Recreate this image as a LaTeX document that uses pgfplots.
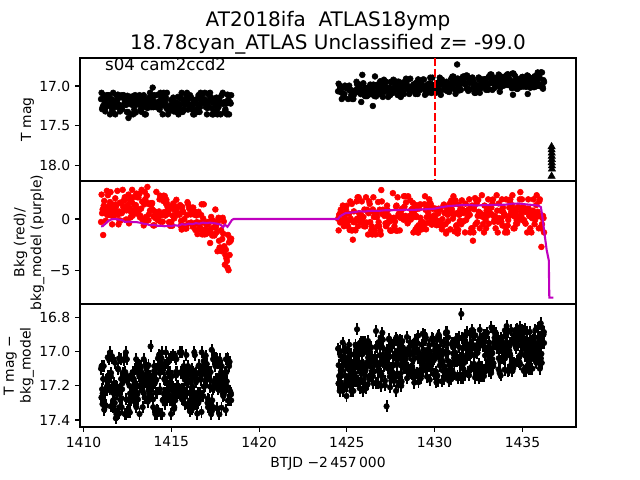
\documentclass[border=0pt]{standalone}
\usepackage{pgfplots}
\pgfplotsset{compat=1.18}
\usepackage{pgfplotstable}
\usepackage{fontspec}
\setmainfont{DejaVu Sans}
\definecolor{mpred}{rgb}{1,0,0}
\definecolor{mpmag}{rgb}{0.75,0,0.75}

\pgfplotstableread{
x mag bkg det
1411.00 17.164 -0.29 17.10
1411.06 17.290 0.56 17.22
1411.12 17.248 -1.55 17.16
1411.18 17.276 1.75 17.34
1411.24 17.318 1.07 17.24
1411.30 17.164 1.07 17.22
1411.36 17.234 0.39 17.16
1411.42 17.234 0.90 17.14
1411.48 17.248 0.39 17.22
1411.54 17.220 2.60 17.32
1411.60 17.164 0.56 17.04
1411.66 17.318 1.41 17.24
1411.72 17.234 0.73 17.32
1411.78 17.192 1.07 17.30
1411.84 17.262 1.41 17.39
1411.90 17.234 0.73 17.24
1411.96 17.108 0.39 17.10
1412.02 17.234 0.73 17.04
1412.08 17.318 1.58 17.22
1412.14 17.276 1.58 17.16
1412.20 17.290 0.66 17.22
1412.26 17.136 1.17 17.14
1412.32 17.220 1.85 17.14
1412.38 17.150 1.17 17.12
1412.44 17.234 0.83 17.28
1412.50 17.122 1.17 17.16
1412.56 17.400 2.36 17.34
1412.62 17.206 1.85 17.20
1412.68 17.136 0.15 17.14
1412.74 17.234 1.68 17.14
1412.80 17.192 0.32 17.12
1412.86 17.122 0.83 17.16
1412.92 17.178 0.66 17.26
1412.98 17.332 1.34 17.20
1413.04 17.164 1.00 17.24
1413.10 17.206 0.49 17.28
1413.16 17.178 0.83 17.08
1413.22 17.234 0.15 17.20
1413.28 17.136 1.00 17.12
1413.34 17.234 1.68 17.22
1413.40 17.220 -0.12 17.24
1413.46 17.262 1.41 17.16
1413.52 17.178 1.92 17.18
1413.58 17.234 0.22 17.10
1413.64 17.276 3.10 17.20
1413.70 17.164 -0.12 17.08
1413.76 17.220 1.41 17.14
1413.82 17.206 1.41 16.97
1413.88 17.150 1.41 17.16
1413.94 17.020 0.90 17.20
1414.00 17.262 0.22 17.18
1414.06 17.122 0.73 17.16
1414.12 17.220 0.05 17.10
1414.18 17.234 0.39 17.24
1414.24 17.108 -0.12 17.04
1414.30 17.192 0.73 17.02
1414.36 17.262 2.26 17.22
1414.42 17.192 0.39 17.06
1414.48 17.108 0.39 17.10
1414.54 17.234 1.75 17.28
1414.60 17.234 0.67 17.16
1414.66 17.206 0.33 17.08
1414.72 17.276 1.86 17.24
1414.78 17.290 1.18 17.18
1414.84 17.262 0.50 17.06
1414.90 17.248 -0.35 17.18
1414.96 17.304 1.18 17.20
1415.02 17.178 1.01 17.20
1415.08 17.220 0.33 17.02
1415.14 17.318 1.35 17.24
1415.20 17.262 0.84 17.22
1415.26 17.262 1.01 17.12
1415.32 17.206 0.67 17.20
1415.38 17.136 0.50 17.20
1415.44 17.248 0.50 17.24
1415.50 17.234 1.35 17.24
1415.56 17.164 -0.18 17.12
1415.62 17.304 1.18 17.28
1415.68 17.304 0.67 17.22
1415.74 17.192 -0.01 17.22
1415.80 17.220 -0.92 17.16
1415.86 17.122 -0.92 17.02
1415.92 17.220 1.63 17.18
1415.98 17.164 -0.41 17.18
1416.04 17.234 0.95 17.24
1416.10 17.248 0.44 17.24
1416.16 17.248 0.61 17.10
1416.22 17.234 -0.75 17.12
1416.28 17.192 0.44 17.24
1416.34 17.192 -0.41 17.02
1416.40 17.220 -0.47 17.18
1416.46 17.164 -0.30 17.16
1416.52 17.234 0.55 17.24
1416.58 17.136 -0.98 17.08
1416.64 17.262 -0.81 17.24
1416.70 17.178 0.38 17.14
1416.76 17.206 -1.49 17.12
1416.82 17.178 0.04 17.26
1416.88 17.164 -1.49 17.10
1416.94 17.220 -0.98 17.20
1417.00 17.220 -0.46 17.12
1417.06 17.276 -0.29 17.30
1417.12 17.094 -1.31 17.12
1417.18 17.178 -0.29 17.12
1417.24 17.150 -0.97 17.12
1417.30 17.276 -0.12 16.99
1417.36 17.206 -1.48 17.22
1417.42 17.318 -0.80 17.18
1417.48 17.192 -1.48 17.04
1417.54 17.248 -0.80 17.04
1417.60 17.304 -1.26 17.16
1417.66 17.234 -0.24 17.22
1417.72 17.192 -2.11 17.18
1417.78 17.220 -2.96 17.20
1417.84 17.206 -1.09 17.12
1417.90 17.220 -1.94 17.20
1417.96 17.220 -1.43 17.26
1418.02 17.332 -2.63 17.22
1418.08 17.290 -3.48 17.18
1418.14 17.220 -3.82 17.12
1418.20 17.108 -4.70 17.04
1418.26 17.178 -4.95 17.06
1418.32 17.206 -3.48 17.06
1418.38 17.220 -2.12 17.24
1424.50 17.066 0.02 16.983
1424.56 17.066 0.38 17.143
1424.62 17.033 -0.34 16.999
1424.68 17.077 -0.16 17.143
1424.74 17.011 -0.16 17.111
1424.80 17.110 0.38 17.047
1424.86 17.099 0.38 17.031
1424.92 17.022 -0.34 16.983
1424.98 17.022 1.28 17.260
1425.04 17.033 -0.16 17.047
1425.10 17.011 -0.16 17.143
1425.16 17.055 -1.06 17.063
1425.22 17.055 0.02 17.127
1425.28 17.088 1.46 17.175
1425.34 17.110 -2.00 17.111
1425.40 17.110 0.74 17.079
1425.46 17.055 -1.06 17.127
1425.52 17.055 -0.16 17.175
1425.58 16.978 0.02 16.870
1425.64 17.077 -0.70 17.095
1425.70 17.075 0.56 17.016
1425.76 17.020 -0.16 16.968
1425.82 17.200 0.38 17.128
1425.88 16.860 -0.34 17.016
1425.94 16.965 0.20 17.080
1426.00 17.042 0.92 17.128
1426.06 17.020 -0.70 17.112
1426.12 17.053 -0.34 17.064
1426.18 17.053 0.74 17.192
1426.24 17.108 0.56 17.064
1426.30 17.064 1.46 17.144
1426.36 17.064 0.74 17.144
1426.42 17.031 -0.70 17.032
1426.48 17.250 0.92 17.144
1426.54 17.075 0.20 17.048
1426.60 16.880 0.56 17.032
1426.66 17.130 0.20 16.880
1426.72 16.987 0.20 17.080
1426.78 17.075 1.64 17.112
1426.84 17.042 -0.70 17.112
1426.90 16.941 -1.14 16.954
1426.96 17.073 2.80 17.130
1427.02 16.963 0.48 16.890
1427.08 17.051 0.66 17.018
1427.14 17.073 0.30 17.082
1427.20 17.029 -0.42 17.050
1427.26 17.018 -0.60 17.320
1427.32 17.051 0.84 17.098
1427.38 17.040 0.30 17.034
1427.44 17.018 -0.24 17.146
1427.50 16.952 -1.14 16.970
1427.56 17.062 -0.06 17.130
1427.62 17.073 2.50 17.082
1427.68 17.062 0.12 17.146
1427.74 16.974 -0.24 17.018
1427.80 17.040 1.20 17.230
1427.86 17.040 -1.14 17.066
1427.92 17.007 0.30 16.954
1427.98 17.018 0.48 17.178
1428.04 17.084 0.12 17.018
1428.10 17.060 0.84 17.200
1428.16 16.994 0.30 16.939
1428.22 17.071 -0.06 17.019
1428.28 17.005 1.20 17.099
1428.34 16.950 0.30 17.035
1428.40 17.005 -0.06 17.115
1428.46 17.038 -0.42 17.099
1428.52 17.005 -0.06 17.115
1428.58 17.049 0.30 17.019
1428.64 17.038 -0.06 17.099
1428.70 17.060 0.48 17.083
1428.76 17.016 1.56 17.051
1428.82 17.027 0.66 17.115
1428.88 17.049 1.38 17.147
1428.94 16.961 0.30 16.987
1429.00 16.961 -0.78 16.987
1429.06 16.917 -1.32 16.907
1429.12 17.038 1.02 17.131
1429.18 16.950 0.12 17.051
1429.24 16.972 -0.24 17.051
1429.30 16.992 -0.37 17.037
1429.36 17.025 -0.37 16.989
1429.42 17.014 1.43 17.037
1429.48 17.069 0.89 17.101
1429.54 17.058 0.17 17.021
1429.60 16.981 -0.37 16.989
1429.66 17.036 1.25 17.085
1429.72 17.069 1.61 17.165
1429.78 16.970 1.43 17.037
1429.84 16.992 -0.55 17.053
1429.90 17.003 1.07 17.053
1429.96 16.992 0.35 17.133
1430.02 17.003 0.17 16.989
1430.08 17.014 0.89 17.117
1430.14 16.992 -0.55 16.973
1430.20 17.003 0.53 16.909
1430.26 16.948 -0.19 16.989
1430.32 17.058 0.89 17.005
1430.38 16.981 -0.55 16.941
1430.44 16.959 -0.01 17.053
1430.50 16.990 1.30 17.086
1430.56 17.034 0.58 17.086
1430.62 17.001 -0.50 17.006
1430.68 16.946 -1.22 16.958
1430.74 17.067 0.40 17.054
1430.80 16.990 0.76 17.134
1430.86 17.045 1.48 17.150
1430.92 16.968 0.58 17.086
1430.98 17.012 0.94 16.958
1431.04 16.990 0.04 16.974
1431.10 16.902 0.40 17.038
1431.16 17.045 1.48 17.054
1431.22 16.913 -0.68 16.926
1431.28 16.730 0.58 17.054
1431.34 16.913 -1.04 16.926
1431.40 17.056 0.40 16.974
1431.46 17.045 0.94 17.038
1431.52 16.924 -0.50 16.780
1431.58 16.946 0.94 17.022
1431.64 16.957 0.58 17.102
1431.70 16.977 0.76 16.928
1431.76 16.966 1.48 17.040
1431.82 17.032 0.76 17.040
1431.88 17.032 0.22 16.992
1431.94 16.911 0.94 17.008
1432.00 17.043 0.40 16.960
1432.06 16.944 1.12 17.008
1432.12 16.955 1.30 16.976
1432.18 16.911 -2.10 16.896
1432.24 16.955 0.94 17.072
1432.30 17.076 2.02 17.152
1432.36 17.076 1.84 17.136
1432.42 16.988 -0.32 17.008
1432.48 17.054 1.84 17.104
1432.54 16.922 0.40 17.072
1432.60 17.032 0.58 16.960
1432.66 16.933 0.40 17.088
1432.72 16.988 0.22 16.928
1432.78 16.988 0.40 16.944
1432.84 16.977 1.30 16.976
1432.90 16.964 -0.09 17.090
1432.96 16.909 0.81 16.994
1433.02 17.019 0.63 17.074
1433.08 16.887 -0.45 16.946
1433.14 16.964 1.17 17.074
1433.20 16.964 0.45 17.010
1433.26 16.942 0.45 17.010
1433.32 16.964 1.89 16.978
1433.38 16.898 -0.27 16.882
1433.44 16.975 0.27 16.946
1433.50 16.942 0.09 16.914
1433.56 16.898 0.81 16.978
1433.62 16.942 -0.27 16.978
1433.68 16.942 0.09 16.978
1433.74 17.019 0.81 17.058
1433.80 16.898 -0.27 16.978
1433.86 16.953 -0.63 16.962
1433.92 16.997 0.63 16.914
1433.98 16.964 0.45 17.106
1434.04 16.953 -0.81 16.978
1434.10 16.863 -1.17 16.851
1434.16 16.852 -0.63 16.883
1434.22 16.896 0.27 16.995
1434.28 16.973 1.71 17.011
1434.34 16.984 0.45 16.947
1434.40 17.028 1.35 17.059
1434.46 17.110 0.99 17.075
1434.52 16.940 0.27 16.931
1434.58 16.874 0.63 16.963
1434.64 16.973 -0.45 16.979
1434.70 16.918 -0.45 16.867
1434.76 16.929 1.17 16.963
1434.82 16.940 0.27 17.059
1434.88 16.984 2.60 17.075
1434.94 16.907 0.27 17.011
1435.00 16.885 -0.09 16.883
1435.06 17.006 1.17 17.107
1435.12 16.929 -0.27 16.963
1435.18 16.995 -0.45 16.979
1435.24 16.918 0.99 16.995
1435.30 17.100 0.99 16.981
1435.36 16.949 0.99 17.045
1435.42 16.949 0.27 16.885
1435.48 16.905 0.63 17.045
1435.54 16.960 0.09 16.949
1435.60 16.993 0.81 16.965
1435.66 17.015 0.63 16.981
1435.72 16.927 -0.09 16.949
1435.78 17.004 1.35 17.061
1435.84 16.993 0.27 17.013
1435.90 16.971 0.27 16.917
1435.96 16.993 1.71 17.013
1436.02 17.004 0.27 16.965
1436.08 16.982 -2.70 17.013
1436.14 17.004 0.09 16.949
1436.20 16.927 0.09 16.901
}\lca

\pgfplotstableread{
x mag bkg det
1411.03 17.085 2.36 17.085
1411.09 17.265 0.92 17.245
1411.15 17.115 1.28 17.085
1411.21 17.205 0.56 17.325
1411.27 17.265 -0.16 17.165
1411.33 17.115 2.72 17.205
1411.39 17.115 2.30 17.165
1411.45 17.115 1.28 17.045
1411.51 17.355 1.64 17.005
1411.57 17.175 0.92 17.125
1411.63 17.295 -0.52 17.205
1411.69 17.085 0.20 17.285
1411.75 17.235 0.56 17.245
1411.81 17.355 2.00 17.205
1411.87 17.115 1.28 17.365
1411.93 17.175 2.72 17.205
1411.99 17.145 -0.52 17.365
1412.05 17.265 -0.16 17.325
1412.11 17.295 -0.16 17.045
1412.17 17.115 0.56 17.325
1412.23 17.145 2.82 17.125
1412.29 17.115 1.74 17.045
1412.35 17.175 2.10 17.365
1412.41 17.235 -0.06 17.005
1412.47 17.325 -0.06 17.045
1412.53 17.325 1.38 17.165
1412.59 17.205 -0.42 17.285
1412.65 17.145 1.02 17.245
1412.71 17.355 0.66 17.285
1412.77 17.145 2.82 17.245
1412.83 17.355 2.10 17.165
1412.89 17.295 1.38 17.245
1412.95 17.115 0.66 17.205
1413.01 17.235 2.46 17.325
1413.07 17.145 2.10 17.205
1413.13 17.205 2.10 17.085
1413.19 17.115 2.46 17.365
1413.25 17.295 0.30 17.085
1413.31 17.325 2.82 17.125
1413.37 17.175 -0.06 17.325
1413.43 17.115 -0.62 17.045
1413.49 17.355 2.62 17.165
1413.55 17.355 -0.26 17.085
1413.61 17.175 2.26 17.125
1413.67 17.175 1.54 17.285
1413.73 17.145 0.46 17.245
1413.79 17.085 0.82 17.165
1413.85 17.265 1.54 17.205
1413.91 17.175 1.54 17.165
1413.97 17.265 -0.62 17.325
1414.03 17.115 -0.62 17.085
1414.09 17.205 0.46 17.365
1414.15 17.265 2.62 17.165
1414.21 17.235 0.46 17.365
1414.27 17.205 0.10 17.085
1414.33 17.295 1.90 17.125
1414.39 17.085 -0.26 17.365
1414.45 17.145 1.90 17.005
1414.51 17.355 -0.26 17.285
1414.57 17.085 2.26 17.245
1414.63 17.175 2.22 17.165
1414.69 17.145 1.50 17.005
1414.75 17.085 1.50 17.285
1414.81 17.355 0.78 17.125
1414.87 17.295 -0.30 17.045
1414.93 17.265 -0.66 17.285
1414.99 17.175 -0.30 17.365
1415.05 17.265 -0.66 17.285
1415.11 17.145 1.50 17.205
1415.17 17.205 0.06 17.325
1415.23 17.205 1.14 17.285
1415.29 17.325 1.86 17.045
1415.35 17.295 0.42 17.245
1415.41 17.355 1.14 17.245
1415.47 17.235 0.42 17.005
1415.53 17.145 -0.66 17.125
1415.59 17.085 -1.02 17.005
1415.65 17.325 0.78 17.245
1415.71 17.295 -0.66 17.085
1415.77 17.235 -0.66 17.165
1415.83 17.175 -0.70 17.245
1415.89 17.085 0.38 17.245
1415.95 17.295 1.46 17.085
1416.01 17.235 1.10 17.325
1416.07 17.115 1.10 17.285
1416.13 17.145 -0.34 17.165
1416.19 17.295 1.10 17.205
1416.25 17.355 1.10 17.325
1416.31 17.355 0.74 17.005
1416.37 17.175 -1.06 17.285
1416.43 17.295 0.34 17.125
1416.49 17.325 -1.46 17.285
1416.55 17.115 0.70 17.085
1416.61 17.325 -0.38 17.245
1416.67 17.085 -0.38 17.165
1416.73 17.115 1.42 17.005
1416.79 17.205 -1.10 17.085
1416.85 17.175 1.42 17.205
1416.91 17.085 -0.38 17.125
1416.97 17.265 -1.46 17.165
1417.03 17.355 -0.52 17.165
1417.09 17.235 -0.52 17.325
1417.15 17.115 -1.24 17.285
1417.21 17.085 -2.32 17.205
1417.27 17.145 0.20 17.365
1417.33 17.355 -1.60 17.285
1417.39 17.355 -0.16 17.325
1417.45 17.325 -1.60 17.205
1417.51 17.175 0.92 17.085
1417.57 17.145 -0.52 17.165
1417.63 17.355 -3.12 17.045
1417.69 17.265 0.12 17.205
1417.75 17.145 -2.76 17.045
1417.81 17.355 -2.76 17.085
1417.87 17.115 -3.12 17.085
1417.93 17.085 0.12 17.245
1417.99 17.205 -0.24 17.245
1418.05 17.205 -4.42 17.125
1418.11 17.325 -2.98 17.045
1418.17 17.355 -4.06 17.205
1418.23 17.175 -1.54 17.045
1418.29 17.355 -2.26 17.085
1418.35 17.205 -1.90 17.285
1418.41 17.115 -1.90 17.285
1424.53 16.971 -1.10 17.080
1424.59 16.995 0.50 17.230
1424.65 17.019 0.90 17.110
1424.71 17.163 0.50 17.200
1424.77 17.019 1.30 17.230
1424.83 17.139 -0.70 17.050
1424.89 16.995 0.10 17.140
1424.95 17.019 0.90 17.080
1425.01 17.019 -0.30 17.200
1425.07 17.163 -0.70 17.170
1425.13 16.995 0.50 16.960
1425.19 17.043 1.70 17.200
1425.25 17.115 -1.10 17.230
1425.31 17.163 -1.10 17.140
1425.37 17.163 -0.30 17.230
1425.43 17.067 -0.30 17.170
1425.49 17.067 -1.10 16.960
1425.55 16.947 1.70 17.020
1425.61 17.043 2.10 17.170
1425.67 17.043 2.10 17.080
1425.73 16.982 0.50 17.215
1425.79 17.102 -0.30 16.945
1425.85 17.078 1.70 16.975
1425.91 17.078 0.10 16.945
1425.97 17.078 -0.70 17.185
1426.03 17.126 -0.70 16.945
1426.09 17.126 2.10 17.215
1426.15 17.126 0.90 17.005
1426.21 17.030 -1.50 17.035
1426.27 17.054 1.70 17.005
1426.33 16.982 -0.30 17.065
1426.39 17.102 -1.10 16.975
1426.45 17.102 -1.50 17.125
1426.51 16.982 2.10 17.185
1426.57 17.126 -1.10 17.065
1426.63 17.078 -1.50 17.185
1426.69 17.006 0.50 16.975
1426.75 16.982 -0.70 17.185
1426.81 17.078 -0.30 16.945
1426.87 17.102 0.90 17.065
1426.93 16.993 -1.50 17.201
1426.99 17.017 1.70 17.051
1427.05 17.137 0.90 16.931
1427.11 16.921 0.50 17.081
1427.17 16.969 0.50 17.171
1427.23 16.945 -0.70 17.021
1427.29 17.041 1.30 16.991
1427.35 17.137 -0.30 17.081
1427.41 17.113 0.10 16.931
1427.47 17.113 -1.10 16.991
1427.53 16.945 0.10 17.171
1427.59 17.089 -1.10 16.961
1427.65 16.921 0.10 17.081
1427.71 17.017 -0.70 17.171
1427.77 16.969 -1.10 16.931
1427.83 16.945 1.30 16.931
1427.89 17.113 2.10 17.021
1427.95 16.945 0.50 16.991
1428.01 17.041 -1.10 16.931
1428.07 17.137 0.50 17.081
1428.13 17.004 1.00 17.036
1428.19 16.956 1.00 16.976
1428.25 17.100 2.20 17.036
1428.31 17.004 2.20 17.066
1428.37 16.908 1.60 17.006
1428.43 16.932 -0.20 17.156
1428.49 17.004 2.20 17.096
1428.55 17.100 0.20 16.976
1428.61 16.908 1.80 16.946
1428.67 17.028 0.90 17.126
1428.73 17.028 1.00 17.096
1428.79 16.980 -1.30 17.006
1428.85 17.052 0.20 17.036
1428.91 17.100 -1.00 16.976
1428.97 17.028 0.20 17.126
1429.03 17.100 1.00 17.036
1429.09 16.980 -0.60 17.006
1429.15 17.052 1.40 17.156
1429.21 16.980 1.40 17.156
1429.27 17.028 -1.00 17.096
1429.33 16.919 -0.60 17.112
1429.39 16.919 -0.60 16.902
1429.45 17.111 2.20 16.902
1429.51 17.015 -1.00 17.022
1429.57 17.087 1.00 17.022
1429.63 17.039 0.60 17.082
1429.69 16.967 1.90 16.962
1429.75 16.895 0.20 17.082
1429.81 17.087 -0.20 17.022
1429.87 16.895 1.00 16.932
1429.93 16.991 0.20 17.052
1429.99 17.039 -0.20 16.962
1430.05 17.087 1.00 17.022
1430.11 16.967 -0.60 16.932
1430.17 16.967 -0.20 17.172
1430.23 17.063 1.00 16.902
1430.29 16.895 -0.60 17.082
1430.35 17.111 -0.60 17.022
1430.41 16.919 -1.00 17.022
1430.47 16.967 -0.60 17.112
1430.53 16.978 1.40 16.947
1430.59 17.050 0.60 17.127
1430.65 17.026 -1.40 16.887
1430.71 17.026 1.00 16.887
1430.77 17.002 -0.20 16.917
1430.83 17.074 0.60 17.127
1430.89 16.978 -1.00 17.097
1430.95 16.906 1.80 17.127
1431.01 16.882 0.60 16.947
1431.07 16.882 2.20 16.947
1431.13 16.930 -1.20 17.067
1431.19 17.098 1.80 16.947
1431.25 16.978 -0.60 17.037
1431.31 16.906 -1.40 17.157
1431.37 17.002 1.40 16.917
1431.43 16.978 -0.20 17.067
1431.49 17.050 -0.20 17.067
1431.55 16.930 1.80 17.157
1431.61 16.882 0.60 17.157
1431.67 16.882 -0.20 17.067
1431.73 16.893 -1.30 16.903
1431.79 16.869 -0.10 16.963
1431.85 16.869 0.70 16.963
1431.91 17.061 0.70 16.993
1431.97 16.965 1.90 17.023
1432.03 16.941 -1.30 17.023
1432.09 16.941 -0.90 16.963
1432.15 16.893 -0.90 16.873
1432.21 17.013 -1.30 16.963
1432.27 17.085 1.30 17.023
1432.33 17.085 -0.50 17.113
1432.39 17.013 1.50 16.963
1432.45 17.013 0.30 16.963
1432.51 16.893 0.70 17.083
1432.57 17.085 -0.90 16.873
1432.63 16.989 0.30 16.933
1432.69 16.917 2.30 17.113
1432.75 17.013 -0.50 17.143
1432.81 16.917 -1.30 17.143
1432.87 16.917 0.10 17.023
1432.93 17.048 -0.90 17.099
1432.99 17.024 0.30 16.889
1433.05 17.048 1.90 17.009
1433.11 16.880 0.70 16.949
1433.17 16.856 1.10 17.039
1433.23 16.856 1.10 16.859
1433.29 17.048 1.50 17.009
1433.35 16.904 0.30 17.069
1433.41 17.024 -0.10 16.919
1433.47 16.952 -0.90 16.889
1433.53 16.952 2.30 16.919
1433.59 17.000 -1.30 16.919
1433.65 16.856 1.50 17.039
1433.71 17.072 -0.10 16.949
1433.77 16.880 -0.10 16.919
1433.83 16.952 1.90 17.039
1433.89 16.904 1.10 16.949
1433.95 16.976 0.30 16.979
1434.01 16.880 -1.30 17.039
1434.07 16.952 1.90 16.949
1434.13 16.987 -1.30 16.964
1434.19 16.891 -0.10 17.114
1434.25 16.987 1.10 16.994
1434.31 16.939 1.90 17.024
1434.37 16.939 0.70 16.874
1434.43 16.843 2.30 17.114
1434.49 16.843 -0.90 16.904
1434.55 17.011 -0.90 16.904
1434.61 16.987 0.70 16.874
1434.67 17.035 -0.10 17.054
1434.73 17.035 1.10 17.054
1434.79 16.915 -0.10 16.904
1434.85 16.939 1.90 17.024
1434.91 17.011 0.70 16.964
1434.97 16.891 1.90 16.874
1435.03 16.939 1.10 16.964
1435.09 16.915 -0.10 17.114
1435.15 16.987 0.70 17.024
1435.21 17.011 0.70 17.114
1435.27 16.867 -1.30 17.084
1435.33 16.878 1.90 16.950
1435.39 16.974 0.30 17.100
1435.45 17.022 -0.90 16.935
1435.51 16.902 -1.30 17.100
1435.57 16.950 0.30 17.100
1435.63 16.926 1.90 16.920
1435.69 16.878 -0.50 17.010
1435.75 16.926 0.30 17.010
1435.81 16.950 2.30 16.980
1435.87 16.830 0.70 16.860
1435.93 16.878 -0.90 16.980
1435.99 16.902 1.90 17.100
1436.05 16.830 -0.90 17.040
1436.11 16.830 -0.50 16.860
1436.17 17.034 0.30 16.890
1436.23 16.950 -1.30 16.950
}\lcb

\pgfplotstableread{
x det
1411.02 17.269
1411.08 17.307
1411.14 17.304
1411.20 17.307
1411.26 17.314
1411.32 17.227
1411.38 17.034
1411.44 17.202
1411.50 17.143
1411.56 17.146
1411.62 17.027
1411.68 17.325
1411.74 17.185
1411.80 17.066
1411.86 17.202
1411.92 17.251
1411.98 17.104
1412.04 17.360
1412.10 17.283
1412.16 17.272
1412.22 17.185
1412.28 17.052
1412.34 17.146
1412.40 17.367
1412.46 17.353
1412.52 17.353
1412.58 17.279
1412.64 17.356
1412.70 17.262
1412.76 17.255
1412.82 17.237
1412.88 17.290
1412.94 17.104
1413.00 17.045
1413.06 17.251
1413.12 17.125
1413.18 17.143
1413.24 17.143
1413.30 17.185
1413.36 17.227
1413.42 17.178
1413.48 17.269
1413.54 17.153
1413.60 17.094
1413.66 17.293
1413.72 17.202
1413.78 17.199
1413.84 17.251
1413.90 17.167
1413.96 17.279
1414.02 17.115
1414.08 17.181
1414.14 17.241
1414.20 17.339
1414.26 17.346
1414.32 17.090
1414.38 17.031
1414.44 17.038
1414.50 17.367
1414.56 17.094
1414.62 17.304
1414.68 17.279
1414.74 17.066
1414.80 17.227
1414.86 17.251
1414.92 17.122
1414.98 17.034
1415.04 17.143
1415.10 17.272
1415.16 17.335
1415.22 17.031
1415.28 17.139
1415.34 17.122
1415.40 17.202
1415.46 17.230
1415.52 17.227
1415.58 17.216
1415.64 17.125
1415.70 17.276
1415.76 17.304
1415.82 17.132
1415.88 17.132
1415.94 17.321
1416.00 17.115
1416.06 17.349
1416.12 17.139
1416.18 17.335
1416.24 17.286
1416.30 17.132
1416.36 17.136
1416.42 17.307
1416.48 17.363
1416.54 17.300
1416.60 17.283
1416.66 17.129
1416.72 17.353
1416.78 17.108
1416.84 17.055
1416.90 17.087
1416.96 17.024
1417.02 17.073
1417.08 17.276
1417.14 17.311
1417.20 17.164
1417.26 17.325
1417.32 17.346
1417.38 17.045
1417.44 17.027
1417.50 17.073
1417.56 17.160
1417.62 17.332
1417.68 17.069
1417.74 17.367
1417.80 17.139
1417.86 17.328
1417.92 17.164
1417.98 17.255
1418.04 17.195
1418.10 17.342
1418.16 17.174
1418.22 17.286
1418.28 17.069
1418.34 17.230
1418.40 17.251
1424.52 17.187
1424.58 17.193
1424.64 17.025
1424.70 17.091
1424.76 16.947
1424.82 16.995
1424.88 17.199
1424.94 17.178
1425.00 17.070
1425.06 17.001
1425.12 17.106
1425.18 17.169
1425.24 17.016
1425.30 17.082
1425.36 17.079
1425.42 17.019
1425.48 17.058
1425.54 16.977
1425.60 17.172
1425.66 17.064
1425.72 16.953
1425.78 17.163
1425.84 17.064
1425.90 17.229
1425.96 16.992
1426.02 17.139
1426.08 17.097
1426.14 16.983
1426.20 16.938
1426.26 17.160
1426.32 16.986
1426.38 17.046
1426.44 17.112
1426.50 17.118
1426.56 17.115
1426.62 17.031
1426.68 16.971
1426.74 17.184
1426.80 17.106
1426.86 17.022
1426.92 16.918
1426.98 17.143
1427.04 16.978
1427.10 17.050
1427.16 17.197
1427.22 17.032
1427.28 16.996
1427.34 17.086
1427.40 16.924
1427.46 17.209
1427.52 17.098
1427.58 17.119
1427.64 17.029
1427.70 16.951
1427.76 17.014
1427.82 16.918
1427.88 17.128
1427.94 17.197
1428.00 17.002
1428.06 17.128
1428.12 17.176
1428.18 16.984
1428.24 17.035
1428.30 17.014
1428.36 17.044
1428.42 16.915
1428.48 17.119
1428.54 16.993
1428.60 17.110
1428.66 17.110
1428.72 17.134
1428.78 16.963
1428.84 17.182
1428.90 16.933
1428.96 16.945
1429.02 16.951
1429.08 17.179
1429.14 17.152
1429.20 17.107
1429.26 16.960
1429.32 16.895
1429.38 17.054
1429.44 16.934
1429.50 16.919
1429.56 17.147
1429.62 17.060
1429.68 17.027
1429.74 17.000
1429.80 17.105
1429.86 16.922
1429.92 16.925
1429.98 17.045
1430.04 17.003
1430.10 17.180
1430.16 17.141
1430.22 17.015
1430.28 17.039
1430.34 17.057
1430.40 17.174
1430.46 16.997
1430.52 17.162
1430.58 17.105
1430.64 16.895
1430.70 17.129
1430.76 17.006
1430.82 17.171
1430.88 17.081
1430.94 17.162
1431.00 17.111
1431.06 17.012
1431.12 17.132
1431.18 17.006
1431.24 17.036
1431.30 17.144
1431.36 17.051
1431.42 17.135
1431.48 17.153
1431.54 16.922
1431.60 16.982
1431.66 17.138
1431.72 17.136
1431.78 16.950
1431.84 16.887
1431.90 17.121
1431.96 17.139
1432.02 16.896
1432.08 17.091
1432.14 16.968
1432.20 16.911
1432.26 17.106
1432.32 16.905
1432.38 16.986
1432.44 17.007
1432.50 17.157
1432.56 16.926
1432.62 17.145
1432.68 17.088
1432.74 16.965
1432.80 16.902
1432.86 17.106
1432.92 16.906
1432.98 17.092
1433.04 17.053
1433.10 17.113
1433.16 16.999
1433.22 17.125
1433.28 17.044
1433.34 17.086
1433.40 16.945
1433.46 16.900
1433.52 16.921
1433.58 16.930
1433.64 17.104
1433.70 17.125
1433.76 17.140
1433.82 16.993
1433.88 17.038
1433.94 17.041
1434.00 16.876
1434.06 17.020
1434.12 16.891
1434.18 17.110
1434.24 17.107
1434.30 16.948
1434.36 17.077
1434.42 17.113
1434.48 17.095
1434.54 17.068
1434.60 16.930
1434.66 16.891
1434.72 16.939
1434.78 16.906
1434.84 16.858
1434.90 16.963
1434.96 16.924
1435.02 16.882
1435.08 16.921
1435.14 16.867
1435.20 16.945
1435.26 16.888
1435.32 17.027
1435.38 17.021
1435.44 16.940
1435.50 17.000
1435.56 16.937
1435.62 16.934
1435.68 17.027
1435.74 16.874
1435.80 17.066
1435.86 17.045
1435.92 17.054
1435.98 16.913
1436.04 16.835
1436.10 17.066
1436.16 16.901
1436.22 16.886
}\lcc

\pgfplotsset{
  lcaxis/.style={
    width=357.12pt, height=88.56pt, scale only axis,
    xmin=1409.8, xmax=1438.05,
    clip mode=individual,
    tick align=outside, major tick length=3.5pt,
    tick style={line width=0.8pt, black},
    axis line style={line width=0.8pt},
    tick pos=left,
    ticklabel style={font=\fontsize{10}{12}\selectfont},
    label style={font=\fontsize{10}{12}\selectfont},
    ylabel shift=-3pt,
  },
  detplot/.style={only marks, mark=*, mark size=2pt, black,
    error bars/.cd, y dir=both, y fixed=0.035, error mark=none,
    error bar style={line width=1.4pt, black}},
}

\begin{document}
\begin{tikzpicture}
% ---------- panel 1 ----------
\begin{axis}[lcaxis, at={(0,177.12pt)}, anchor=south west,
  xtick=\empty, y dir=reverse, ymin=16.649, ymax=18.19,
  ytick={17.0,17.5,18.0}, yticklabels={17.0,17.5,18.0},
  ylabel={T mag}]
\addplot[only marks, mark=*, mark size=2.1pt, black] table[x=x,y=mag]{\lca};
\addplot[only marks, mark=*, mark size=2.1pt, black] table[x=x,y=mag]{\lcb};
\addplot[only marks, mark=triangle*, mark size=3pt, black] coordinates {
(1436.66,17.76) (1436.66,17.80) (1436.67,17.84) (1436.67,17.88) (1436.67,17.92)
(1436.67,17.96) (1436.68,18.00) (1436.68,18.04) (1436.66,18.13)};
\addplot[mpred, line width=1.5pt, dash pattern=on 5.55pt off 2.4pt] coordinates {(1430,16.649) (1430,18.19)};
\node[anchor=base west, inner sep=0pt, font=\fontsize{12}{14}\selectfont] at (axis description cs:0.05,0.897) {s04 cam2ccd2};
\node[anchor=base, inner sep=0pt, font=\fontsize{14.4}{17}\selectfont, yshift=22.5pt] at (axis description cs:0.5,1) {AT2018ifa\ \ ATLAS18ymp};
\node[anchor=base, inner sep=0pt, font=\fontsize{14.4}{17}\selectfont, yshift=6pt] at (axis description cs:0.5,1) {18.78cyan\_ATLAS Unclassified z= -99.0};
\end{axis}
% ---------- panel 2 ----------
\begin{axis}[lcaxis, at={(0,88.56pt)}, anchor=south west,
  xtick=\empty, ymin=-8.22, ymax=3.675,
  ytick={-5,0}, yticklabels={−5,0},
  ylabel={Bkg (red)/\\bkg\_model (purple)}, ylabel style={align=center}]
\addplot[only marks, mark=*, mark size=2.1pt, mpred] table[x=x,y=bkg]{\lca};
\addplot[only marks, mark=*, mark size=2.1pt, mpred] table[x=x,y=bkg]{\lcb};
\addplot[mpmag, line width=1.5pt] coordinates {
(1411.00,-0.72) (1411.10,-0.68) (1411.25,-0.45) (1411.40,-0.20) (1411.60,-0.03) (1411.80,0.00)
(1412.00,-0.05) (1412.20,-0.10) (1412.35,-0.28) (1412.60,-0.25) (1412.80,-0.30) (1413.00,-0.30)
(1413.20,-0.35) (1413.40,-0.45) (1413.60,-0.50) (1413.80,-0.60) (1414.00,-0.55) (1414.20,-0.65)
(1414.40,-0.65) (1414.60,-0.70) (1414.80,-0.65) (1415.00,-0.70) (1415.20,-0.60) (1415.40,-0.65)
(1415.60,-0.50) (1415.80,-0.55) (1416.00,-0.45) (1416.20,-0.50) (1416.40,-0.40) (1416.60,-0.45)
(1416.80,-0.35) (1417.00,-0.40) (1417.20,-0.35) (1417.40,-0.40) (1417.60,-0.45) (1417.80,-0.55)
(1417.95,-0.80) (1418.05,-0.55) (1418.20,-0.75) (1418.30,-0.50) (1418.45,-0.10) (1418.55,0.00)
(1424.50,0.00) (1424.60,0.25) (1424.75,0.40) (1424.90,0.55) (1425.10,0.60) (1425.40,0.65)
(1425.70,0.75) (1426.00,0.72) (1426.40,0.80) (1426.80,0.78) (1427.20,0.85) (1427.60,0.85)
(1428.00,0.88) (1428.40,0.90) (1428.80,0.88) (1429.20,0.92) (1429.60,0.95) (1430.00,1.00)
(1430.40,1.15) (1430.80,1.25) (1431.20,1.30) (1431.60,1.35) (1432.00,1.35) (1432.40,1.30)
(1432.80,1.35) (1433.20,1.35) (1433.60,1.38) (1434.00,1.38) (1434.40,1.48) (1434.80,1.50)
(1435.00,1.45) (1435.30,1.40) (1435.60,1.35) (1435.90,1.30) (1436.05,1.15) (1436.12,0.40)
(1436.25,-1.35) (1436.38,-3.00) (1436.50,-4.00) (1436.53,-7.60) (1436.76,-7.60)};
\end{axis}
% ---------- panel 3 ----------
\begin{axis}[lcaxis, at={(0,0)}, anchor=south west,
  y dir=reverse, ymin=16.722, ymax=17.441,
  ytick={16.8,17.0,17.2,17.4}, yticklabels={16.8,17.0,17.2,17.4},
  xtick={1410,1415,1420,1425,1430,1435},
  xticklabels={1410,1415,1420,1425,1430,1435},
  ylabel={T mag −\\bkg\_model}, ylabel style={align=center}]
\addplot[detplot] table[x=x,y=det]{\lca};
\addplot[detplot] table[x=x,y=det]{\lcb};
\addplot[detplot] table[x=x,y=det]{\lcc};
\node[anchor=base, inner sep=0pt, font=\fontsize{10}{12}\selectfont, yshift=-29.5pt] at (axis description cs:0.5,0) {BTJD −2\,457\,000};
\end{axis}
\pgfresetboundingbox
\path[use as bounding box] (-57.6pt,-38.16pt) rectangle (403.2pt,307.44pt);
\end{tikzpicture}
\end{document}
